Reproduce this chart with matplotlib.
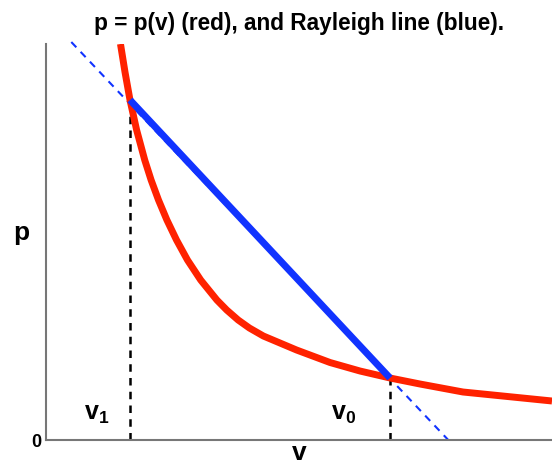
import numpy as np
import matplotlib
matplotlib.use("Agg")
import matplotlib.pyplot as plt

plt.rcParams['font.family'] = ['Liberation Sans', 'DejaVu Sans']
plt.rcParams['mathtext.fontset'] = 'custom'
plt.rcParams['mathtext.rm'] = 'Liberation Sans:bold'
plt.rcParams['mathtext.bf'] = 'Liberation Sans:bold'

# curva p = p(v)
curva_v = [0.1472, 0.1561, 0.1660, 0.1791, 0.1951, 0.2077, 0.2223, 0.2389,
           0.2579, 0.2796, 0.3057, 0.3377, 0.3571, 0.3798, 0.4020, 0.4296,
           0.4951, 0.5613, 0.6206, 0.6798, 0.7391, 0.8241, 1.0]
curva_p = [1.0, 0.9293, 0.8586, 0.7828, 0.7071, 0.6566, 0.6061, 0.5556,
           0.5051, 0.4545, 0.4040, 0.3535, 0.3283, 0.3030, 0.2828, 0.2626,
           0.2273, 0.1957, 0.1742, 0.1566, 0.1414, 0.1212, 0.0985]

# estados 1 e 0
v1, p1 = 0.1660, 0.8586
v0, p0 = 0.6798, 0.1566

# extensao tracejada da reta de Rayleigh
ext_v = [0.050, 0.795]
ext_p = [1.005, 0.0]


def main():
    fig = plt.figure(figsize=(5.52, 4.65), dpi=100)
    ax = fig.add_axes([46 / 552, 25 / 465, 506 / 552, 396 / 465])

    ax.plot(ext_v, ext_p, color='#1133ff', lw=1.5, ls=(0, (3.5, 3)), clip_on=False)
    ax.plot([v1, v1], [0, p1], color='black', lw=1.8, ls=(0, (3, 2.5)))
    ax.plot([v0, v0], [0, p0], color='black', lw=1.8, ls=(0, (3, 2.5)))
    ax.plot(curva_v, curva_p, color='#ff2200', lw=5, solid_capstyle='butt',
            solid_joinstyle='round')
    ax.plot([v1, v0], [p1, p0], color='#1133ff', lw=5, solid_capstyle='butt')

    # rotulos v1 e v0
    ax.text(0.100, 0.066, r'$\mathbf{v}_{\mathbf{1}}$', fontsize=18,
            ha='center', va='center')
    ax.text(0.589, 0.066, r'$\mathbf{v}_{\mathbf{0}}$', fontsize=18,
            ha='center', va='center')

    ax.set_xlim(0, 1)
    ax.set_ylim(0, 1)
    ax.set_xticks([])
    ax.set_yticks([0])
    ax.set_yticklabels(['0'], fontweight='bold', fontsize=13)
    ax.tick_params(axis='y', length=0, pad=3)

    for s in ['top', 'right']:
        ax.spines[s].set_visible(False)
    for s in ['left', 'bottom']:
        ax.spines[s].set_color('#777777')
        ax.spines[s].set_linewidth(1.5)

    ax.set_title("p = p(v) (red), and Rayleigh line (blue).",
                 fontweight='bold', fontsize=16.3, pad=10)
    ax.set_xlabel("v", fontweight='bold', fontsize=19, labelpad=1)
    ax.set_ylabel("p", fontweight='bold', fontsize=19, rotation=0,
                  ha='center', va='center')
    ax.yaxis.set_label_coords(-0.048, 0.523)

    fig.savefig("out.png", dpi=100)


if __name__ == "__main__":
    main()
